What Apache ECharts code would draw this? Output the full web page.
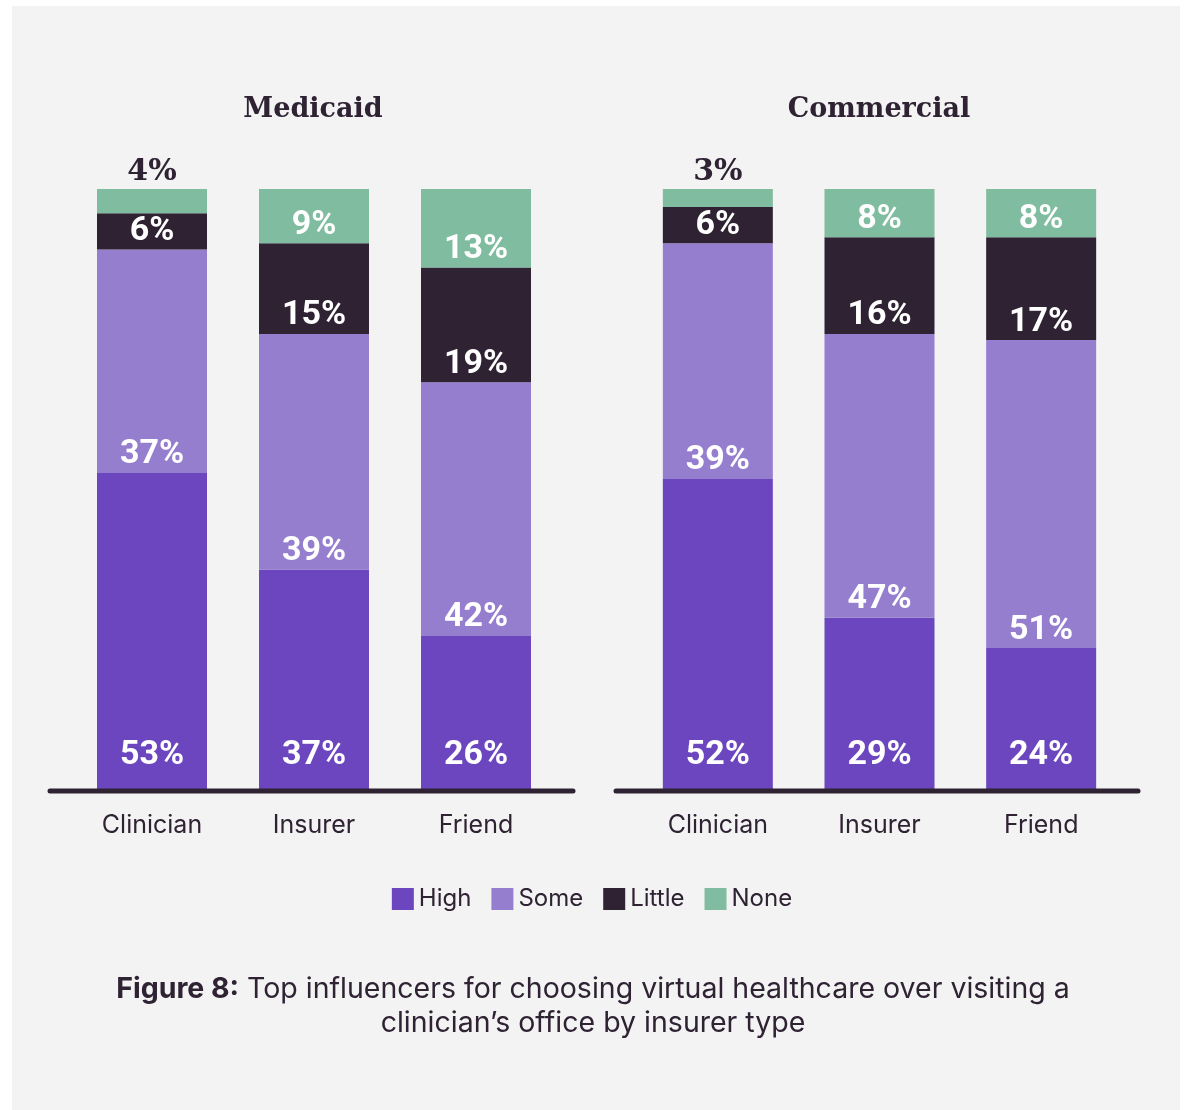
<!DOCTYPE html>
<html>
<head>
<meta charset="utf-8">
<script src="https://cdn.jsdelivr.net/npm/echarts@6/dist/echarts.min.js"></script>
<style>
  html, body { margin: 0; padding: 0; background: #ffffff; }
  #panel { position: absolute; left: 12px; top: 6px; width: 1168px; height: 1104px; background: #f3f3f3; }
  #chart { position: absolute; left: 0; top: 0; width: 1184px; height: 1110px; }
</style>
</head>
<body>
<div id="panel"></div>
<div id="chart"></div>
<script>
// Influencer categories shown on each panel
const categories = ['Clinician', 'Insurer', 'Friend'];
const levels = ['High', 'Some', 'Little', 'None'];

// Medicaid shares (%)
const medicaidHigh = [53, 37, 26];
const medicaidSome = [37, 39, 42];
const medicaidLittle = [6, 15, 19];
const medicaidNone = [4, 9, 13];

// Commercial shares (%)
const commercialHigh = [52, 29, 24];
const commercialSome = [39, 47, 51];
const commercialLittle = [6, 16, 17];
const commercialNone = [3, 8, 8];

const colors = { High: '#6b46be', Some: '#967ecf', Little: '#2f2233', None: '#80bc9f' };
const ink = '#2e2233';

function labelFor(level, value) {
  // Segments too thin for an inner label get their label above the bar
  if (value < 5) {
    return { show: true, position: 'top', distance: 2, color: ink,
             fontFamily: 'DejaVu Serif', fontWeight: 'bold', fontSize: 30 };
  }
  // Bottom segments keep their label clear of the baseline
  const lift = level === 'High' ? 21 : 1;
  return { show: true, position: 'insideBottom', distance: lift, color: '#ffffff',
           fontFamily: 'Roboto', fontWeight: 'bold', fontSize: 34 };
}

function panelSeries(gridIndex, stackName, values) {
  return levels.map((lvl, i) => ({
    name: lvl,
    type: 'bar',
    stack: stackName,
    xAxisIndex: gridIndex,
    yAxisIndex: gridIndex,
    barWidth: 110,
    itemStyle: { color: colors[lvl] },
    data: values[i].map(v => ({ value: v, label: labelFor(lvl, v) })),
    label: { formatter: p => p.value + '%' },
    emphasis: { disabled: true }
  }));
}

const chart = echarts.init(document.getElementById('chart'), null, { renderer: 'canvas' });

const axisLabelStyle = { color: ink, fontFamily: 'Inter', fontSize: 25, margin: 20 };

const option = {
  backgroundColor: 'transparent',
  animation: false,
  title: [
    { text: 'Medicaid', left: 308, top: 91, textAlign: 'center',
      textStyle: { fontFamily: 'DejaVu Serif', fontWeight: 'bold', fontSize: 27, color: ink } },
    { text: 'Commercial', left: 874, top: 91, textAlign: 'center',
      textStyle: { fontFamily: 'DejaVu Serif', fontWeight: 'bold', fontSize: 27, color: ink } },
    { text: '{b|Figure 8:} Top influencers for choosing virtual healthcare over visiting a\nclinician\u2019s office by insurer type',
      left: 588, top: 967, textAlign: 'center',
      textStyle: { fontFamily: 'Inter', fontWeight: 'normal', fontSize: 28.5, color: ink, lineHeight: 34,
        rich: { b: { fontFamily: 'Inter', fontWeight: 'bold', fontSize: 28.5, color: ink, lineHeight: 34 } } } }
  ],
  legend: {
    data: levels,
    left: 'center',
    top: 882,
    itemWidth: 22,
    itemHeight: 22,
    itemGap: 20,
    icon: 'rect',
    selectedMode: false,
    textStyle: { color: ink, fontFamily: 'Inter', fontSize: 24, padding: [2, 0, 0, 0] }
  },
  grid: [
    { left: 71, width: 486, top: 189, bottom: 317 },
    { left: 637, width: 485, top: 189, bottom: 317 }
  ],
  xAxis: [0, 1].map(i => ({
    type: 'category', gridIndex: i, data: categories,
    axisLine: { show: false }, axisTick: { show: false },
    axisLabel: axisLabelStyle
  })),
  yAxis: [0, 1].map(i => ({
    type: 'value', gridIndex: i, min: 0, max: 100,
    show: false, splitLine: { show: false }
  })),
  series: [
    ...panelSeries(0, 'medicaid', [medicaidHigh, medicaidSome, medicaidLittle, medicaidNone]),
    ...panelSeries(1, 'commercial', [commercialHigh, commercialSome, commercialLittle, commercialNone])
  ],
  graphic: [
    // Baselines under each panel
    { type: 'line', shape: { x1: 50, y1: 791, x2: 573, y2: 791 }, z: 10,
      style: { stroke: ink, lineWidth: 5, lineCap: 'round' } },
    { type: 'line', shape: { x1: 616, y1: 791, x2: 1138, y2: 791 }, z: 10,
      style: { stroke: ink, lineWidth: 5, lineCap: 'round' } }
  ]
};

chart.setOption(option);
</script>
</body>
</html>
